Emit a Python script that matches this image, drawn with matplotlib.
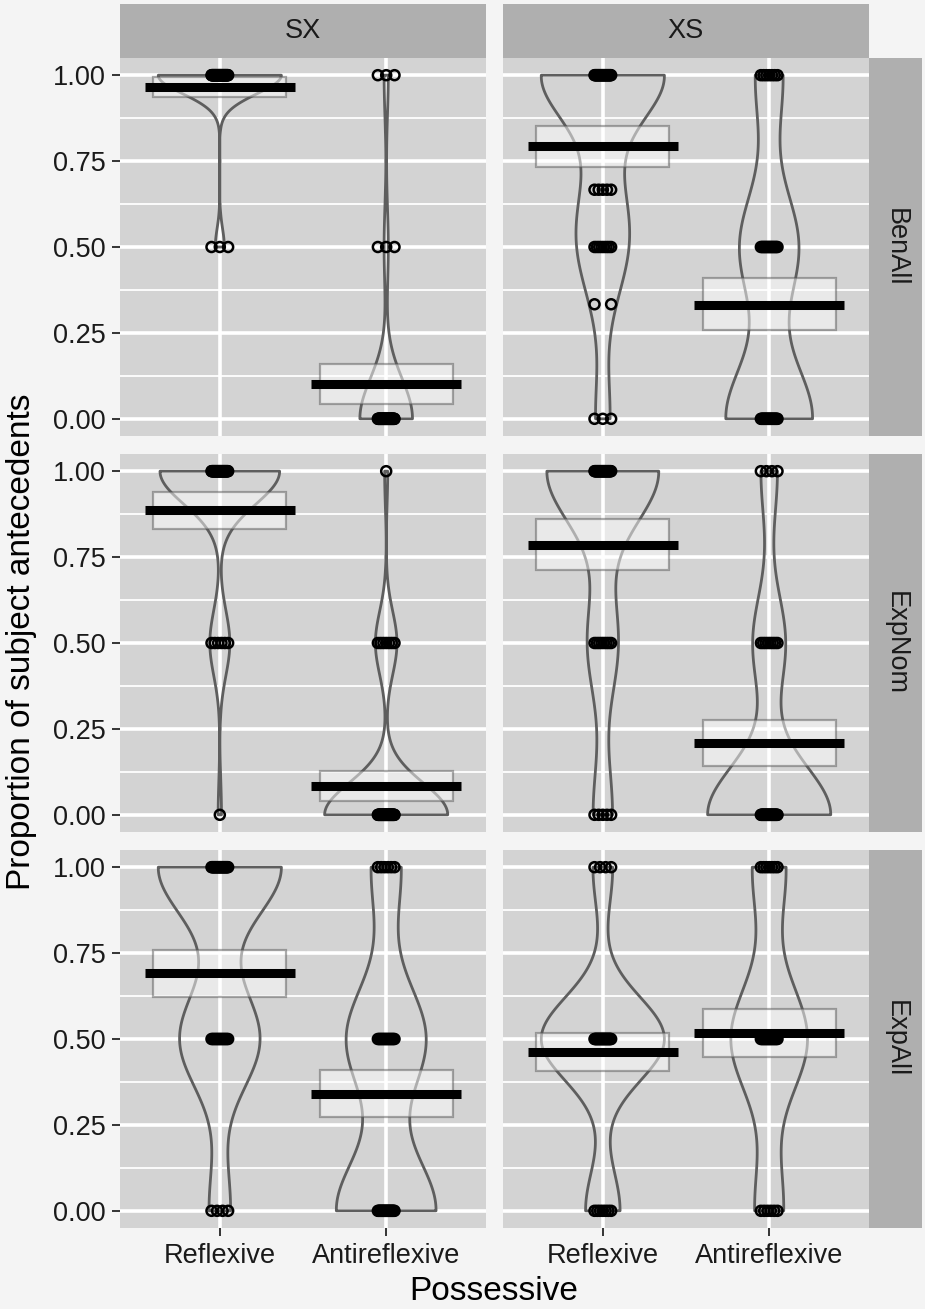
import numpy as np
import matplotlib
matplotlib.use("Agg")
import matplotlib.pyplot as plt
from matplotlib import cbook, mlab

plt.rcParams["font.family"] = ["Liberation Sans", "DejaVu Sans"]

# facets and categories
rows = ["BenAll", "ExpNom", "ExpAll"]
cols = ["SX", "XS"]
possessive = ["Reflexive", "Antireflexive"]

# response levels (proportion per subject) and number of subjects at each level
levels = [0, 1 / 3, 1 / 2, 2 / 3, 1]
# one list per row (BenAll, ExpNom, ExpAll)
sx_reflexive_counts = [[0, 0, 3, 0, 41], [1, 0, 6, 0, 36], [4, 0, 15, 0, 23]]
sx_antireflexive_counts = [[38, 0, 3, 0, 3], [40, 0, 7, 0, 1], [20, 0, 16, 0, 6]]
xs_reflexive_counts = [[3, 2, 8, 5, 26], [5, 0, 8, 0, 29], [7, 0, 25, 0, 4]]
xs_antireflexive_counts = [[22, 0, 15, 0, 7], [30, 0, 8, 0, 4], [6, 0, 16, 0, 7]]

# means and confidence intervals, [Reflexive, Antireflexive] per row
sx_means = [[0.965, 0.101], [0.886, 0.085], [0.691, 0.341]]
sx_ci_low = [[0.937, 0.043], [0.832, 0.041], [0.621, 0.274]]
sx_ci_high = [[0.996, 0.160], [0.940, 0.128], [0.758, 0.411]]
xs_means = [[0.793, 0.332], [0.784, 0.210], [0.462, 0.518]]
xs_ci_low = [[0.733, 0.258], [0.711, 0.143], [0.406, 0.449]]
xs_ci_high = [[0.851, 0.409], [0.860, 0.277], [0.517, 0.588]]

counts = {"SX": [sx_reflexive_counts, sx_antireflexive_counts],
          "XS": [xs_reflexive_counts, xs_antireflexive_counts]}
means = {"SX": sx_means, "XS": xs_means}
ci_low = {"SX": sx_ci_low, "XS": xs_ci_low}
ci_high = {"SX": sx_ci_high, "XS": xs_ci_high}

BG = "#f4f4f4"
PANEL = "#d3d3d3"
STRIP = "#afafaf"
TEXT = "#1a1a1a"


def nrd0(x):
    sd = np.std(x, ddof=1)
    q75, q25 = np.percentile(x, [75, 25])
    lo = min(sd, (q75 - q25) / 1.34)
    if lo == 0:
        lo = sd
    return 0.9 * lo * len(x) ** -0.2


def kde(x, coords):
    h = nrd0(x)
    k = mlab.GaussianKDE(x, bw_method=lambda _: h / np.std(x, ddof=1))
    return k.evaluate(coords)


W, H = 925, 1309
fig = plt.figure(figsize=(W / 100, H / 100), dpi=100, facecolor=BG)

col_left = [120, 503]
col_w = 366
row_top = [58, 454, 850]
row_h = 378


def fx(px):
    return px / W


def fy(py):
    return 1 - py / H


for ri, rname in enumerate(rows):
    for ci, cname in enumerate(cols):
        ax = fig.add_axes([fx(col_left[ci]), fy(row_top[ri] + row_h),
                           col_w / W, row_h / H])
        ax.set_facecolor(PANEL)
        for s in ax.spines.values():
            s.set_visible(False)
        ax.set_xlim(0.4, 2.6)
        ax.set_ylim(-0.05, 1.05)
        ax.set_xticks([1, 2])
        ax.set_yticks([0, 0.25, 0.5, 0.75, 1])
        ax.set_yticks([0.125, 0.375, 0.625, 0.875], minor=True)
        ax.grid(True, which="major", color="white", linewidth=2.6)
        ax.grid(True, which="minor", axis="y", color="white", linewidth=1.3)
        ax.set_axisbelow(True)
        ax.tick_params(which="minor", length=0)
        ax.tick_params(which="major", length=5.5, width=1.4, color="#333333",
                       labelsize=19.5, labelcolor=TEXT, pad=5)
        if ci == 0:
            ax.set_yticklabels(["0.00", "0.25", "0.50", "0.75", "1.00"])
        else:
            ax.tick_params(axis="y", labelleft=False, length=0)
        if ri == 2:
            ax.set_xticklabels(possessive)
        else:
            ax.tick_params(axis="x", labelbottom=False, length=0)

        # raw per-subject values of both violins
        data = []
        for pi in range(2):
            c = counts[cname][pi][ri]
            data.append(np.repeat(levels, c))

        stats = cbook.violin_stats(data, kde, points=512)
        peak = [s["vals"].max() for s in stats]
        widths = [0.74 * p / max(peak) for p in peak]
        parts = ax.violin(stats, positions=[1, 2], widths=widths,
                          showmeans=False, showextrema=False, showmedians=False)
        for b in parts["bodies"]:
            b.set_facecolor("none")
            b.set_edgecolor("#5e5e5e")
            b.set_linewidth(2.0)
            b.set_alpha(1)
            b.set_zorder(2)

        lo = np.array(ci_low[cname][ri])
        hi = np.array(ci_high[cname][ri])
        ax.bar([1, 2], hi - lo, bottom=lo, width=0.8,
               facecolor=(1, 1, 1, 0.5), edgecolor=(0.35, 0.35, 0.35, 0.5),
               linewidth=1.6, zorder=3)

        # jittered points
        for pi in range(2):
            c = counts[cname][pi][ri]
            for lv, k in zip(levels, c):
                if k == 0:
                    continue
                off = np.linspace(-0.05, 0.05, k) if k > 1 else np.array([0.0])
                ax.scatter(pi + 1 + off, np.full(k, lv), s=52, facecolors="none",
                           edgecolors="black", linewidths=1.8, zorder=4)

        ax.hlines(means[cname][ri], [0.55, 1.55], [1.45, 2.45], colors="black",
                  linewidth=6.5, zorder=5)

        if ri == 0:
            sax = fig.add_axes([fx(col_left[ci]), fy(58), col_w / W, 54 / H])
            sax.set_facecolor(STRIP)
            sax.set_xticks([])
            sax.set_yticks([])
            for s in sax.spines.values():
                s.set_visible(False)
            sax.text(0.5, 0.5, cname, ha="center", va="center", fontsize=19.5,
                     color=TEXT, transform=sax.transAxes)
        if ci == 1:
            sax = fig.add_axes([fx(869), fy(row_top[ri] + row_h), 53 / W, row_h / H])
            sax.set_facecolor(STRIP)
            sax.set_xticks([])
            sax.set_yticks([])
            for s in sax.spines.values():
                s.set_visible(False)
            sax.text(0.5, 0.5, rname, ha="center", va="center", fontsize=19.5,
                     color=TEXT, rotation=-90, transform=sax.transAxes)

fig.text(fx(22), fy(642), "Proportion of subject antecedents", rotation=90,
         ha="center", va="center", fontsize=24, color="black")
fig.text(fx(494), fy(1292), "Possessive", ha="center", va="center",
         fontsize=24, color="black")

fig.savefig("out.png", dpi=100, facecolor=BG)
